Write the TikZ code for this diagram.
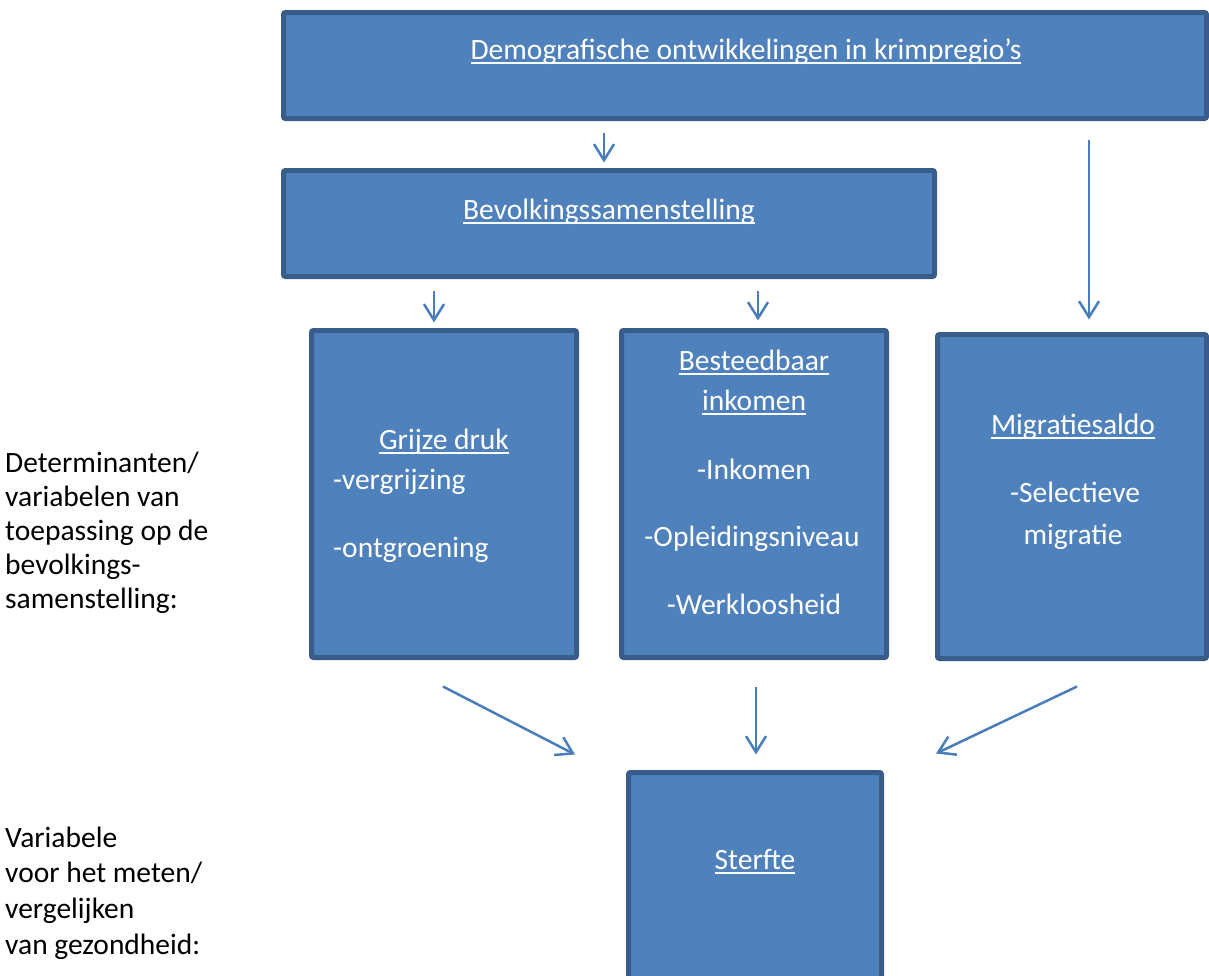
\documentclass[tikz,border=0pt]{standalone}
\usepackage{fontspec}
\setmainfont{Carlito}
\usetikzlibrary{arrows.meta,calc}
\definecolor{boxfill}{HTML}{4F81BD}
\definecolor{boxline}{HTML}{385D8A}
\definecolor{arrcol}{HTML}{4A7EBB}
\newsavebox\myulbox
\newcommand\myul[1]{\sbox\myulbox{#1}\rlap{\rule[-5pt]{\wd\myulbox}{2pt}}\usebox\myulbox}
\begin{document}
\begin{tikzpicture}[x=1pt,y=-1pt,
 box/.style={draw=boxline, fill=boxfill, line width=5pt, rounded corners=2pt, inner sep=0pt},
 wt/.style={text=white, font=\fontsize{29.5}{35}\selectfont, inner sep=0pt, anchor=base},
 wtl/.style={wt, anchor=base west},
 lbl/.style={text=black, font=\fontsize{29.5}{35}\selectfont, inner sep=0pt, anchor=base west},
 arr/.style={draw=arrcol, line width=2.5pt, -{Straight Barb[length=16pt,width=20pt,line width=2.5pt]}}]
\useasboundingbox (0,0) rectangle (1209,975);
\clip (0,0) rectangle (1209,975);
% boxes
\node[box, minimum width=923pt, minimum height=106pt] (top) at (745,65.5) {};
\node[box, minimum width=651pt, minimum height=106pt] (bev) at (609,223.5) {};
\node[box, minimum width=265pt, minimum height=327pt] (gri) at (444,494) {};
\node[box, minimum width=265pt, minimum height=327pt] (bes) at (754,494) {};
\node[box, minimum width=269pt, minimum height=324pt] (mig) at (1072,496.5) {};
\node[box, minimum width=253pt, minimum height=215pt] (ste) at (755,880) {};
% arrows
\draw[arr] ($(top.south)+(-141,11.5)$) -- ($(bev.north)+(-5,-5.5)$);
\draw[arr] ($(top.south)+(344,18.5)$) -- ($(mig.north)+(17,-12.5)$);
\draw[arr] ($(bev.south)+(-175,11.5)$) -- ($(gri.north)+(-10,-5.5)$);
\draw[arr] ($(bev.south)+(149,11.5)$) -- ($(bes.north)+(4,-7.5)$);
\draw[arr] ($(gri.south)+(-1,26.5)$) -- ($(ste.north)+(-180,-15.5)$);
\draw[arr] ($(bes.south)+(2,26.5)$) -- ($(ste.north)+(1,-15.5)$);
\draw[arr] ($(mig.south)+(5,25.5)$) -- ($(ste.north)+(181,-16.5)$);
% texts in boxes
\node[wt] (t1) at (746,59) {\myul{Demografische ontwikkelingen in krimpregio’s}};
\node[wt] (t2) at (609,219) {\myul{Bevolkingssamenstelling}};
\node[wt] (t3) at (444,449) {\myul{Grijze druk}};
\node[wtl] (t4) at (333,489) {-vergrijzing};
\node[wtl] (t5) at (333,557) {-ontgroening};
\node[wt] (t6) at (754,370) {\myul{Besteedbaar}};
\node[wt] (t7) at (754,410) {\myul{inkomen}};
\node[wt] (t8) at (754,479) {-Inkomen};
\node[wt] (t9) at (752,546) {-Opleidingsniveau};
\node[wt] (t10) at (754,614) {-Werkloosheid};
\node[wt] (t11) at (1073,434) {\myul{Migratiesaldo}};
\node[wt] (t12) at (1075,502) {-Selectieve};
\node[wt] (t13) at (1073,544) {migratie};
\node[wt] (t14) at (755,869) {\myul{Sterfte}};
% side labels
\node[lbl] (l1) at (5,472) {Determinanten/};
\node[lbl] (l2) at (5,506) {variabelen van};
\node[lbl] (l3) at (5,540) {toepassing op de};
\node[lbl] (l4) at (5,574) {bevolkings-};
\node[lbl] (l5) at (5,608) {samenstelling:};
\node[lbl] (l6) at (5,847) {Variabele};
\node[lbl] (l7) at (5,882) {voor het meten/};
\node[lbl] (l8) at (5,918) {vergelijken};
\node[lbl] (l9) at (5,954) {van gezondheid:};
\end{tikzpicture}
\end{document}
